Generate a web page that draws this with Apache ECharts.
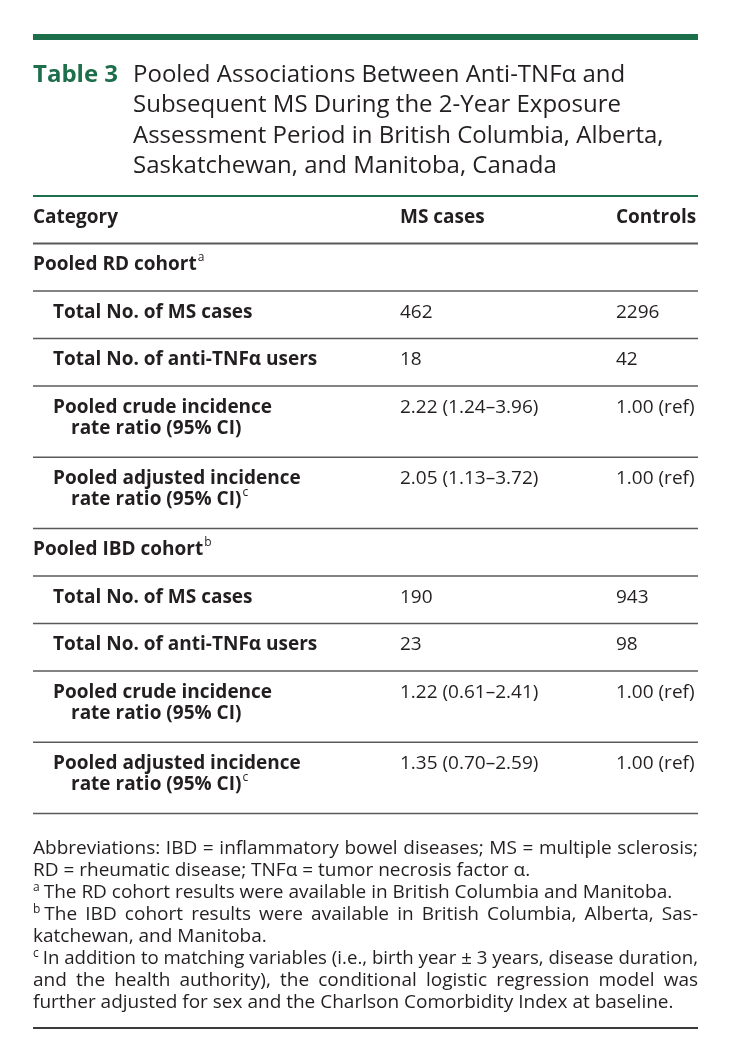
<!DOCTYPE html>
<html><head><meta charset="utf-8">
<script src="https://cdn.jsdelivr.net/npm/echarts@6/dist/echarts.min.js"></script>
<style>html,body{margin:0;padding:0;background:#fff}#c{width:730px;height:1063px}</style>
</head><body><div id="c"></div>
<script>
// ---------- data ----------
const tableNumber = 'Table 3';
const titleLines = [
  'Pooled Associations Between Anti-TNFα and',
  'Subsequent MS During the 2-Year Exposure',
  'Assessment Period in British Columbia, Alberta,',
  'Saskatchewan, and Manitoba, Canada'
];
const columnHeaders = ['Category', 'MS cases', 'Controls'];
const rowLabels = [
  ['Pooled RD cohort'],
  ['Total No. of MS cases'],
  ['Total No. of anti-TNFα users'],
  ['Pooled crude incidence', 'rate ratio (95% CI)'],
  ['Pooled adjusted incidence', 'rate ratio (95% CI)'],
  ['Pooled IBD cohort'],
  ['Total No. of MS cases'],
  ['Total No. of anti-TNFα users'],
  ['Pooled crude incidence', 'rate ratio (95% CI)'],
  ['Pooled adjusted incidence', 'rate ratio (95% CI)']
];
const rowIsGroup = [true, false, false, false, false, true, false, false, false, false];
const rowSuperscripts = ['a', '', '', '', 'c', 'b', '', '', '', 'c'];
const msCases = ['', '462', '18', '2.22 (1.24–3.96)', '2.05 (1.13–3.72)', '', '190', '23', '1.22 (0.61–2.41)', '1.35 (0.70–2.59)'];
const controls = ['', '2296', '42', '1.00 (ref)', '1.00 (ref)', '', '943', '98', '1.00 (ref)', '1.00 (ref)'];
const footnotes = [
  { sup: '', lines: ['Abbreviations: IBD = inflammatory bowel diseases; MS = multiple sclerosis;', 'RD = rheumatic disease; TNFα = tumor necrosis factor α.'] },
  { sup: 'a', lines: ['The RD cohort results were available in British Columbia and Manitoba.'] },
  { sup: 'b', lines: ['The IBD cohort results were available in British Columbia, Alberta, Sas-', 'katchewan, and Manitoba.'] },
  { sup: 'c', lines: ['In addition to matching variables (i.e., birth year ± 3 years, disease duration,', 'and the health authority), the conditional logistic regression model was', 'further adjusted for sex and the Charlson Comorbidity Index at baseline.'] }
];

// ---------- layout / style ----------
const FAMILY = '"Open Sans", "Noto Sans", sans-serif';
const TEXT = '#231f20';
const GREEN = '#1d6e4b';
const RULE = '#5a5a5a';
const LEFT = 33, RIGHT = 698, TABLE_W = RIGHT - LEFT;
const COL_X = [0, 367, 583];
const ROW_FONT = '700 19px ' + FAMILY;
const VAL_FONT = '400 19px ' + FAMILY;
const FOOT_FONT = '400 19px ' + FAMILY;
const SUP_FONT = '400 12px ' + FAMILY;
const TITLE_FONT = '400 24px ' + FAMILY;

const cvs = document.createElement('canvas').getContext('2d');
function measure(t, f) { cvs.font = f; return cvs.measureText(t).width; }

// row extents in "line units": header = 1, then each row 1 or 1.5
const rowStarts = [], rowEnds = [];
let acc = 0;
rowStarts.push(acc); acc += 1; rowEnds.push(acc); // header
rowLabels.forEach(l => { rowStarts.push(acc); acc += (l.length > 1 ? 1.5 : 1); rowEnds.push(acc); });
const TOTAL_UNITS = acc;
const seriesData = rowStarts.map((s, i) => [i, s, rowEnds[i]]);

function txt(t, x, y, font, fill, extra) {
  const o = { type: 'text', x: x, y: y, style: { text: t, font: font, fill: fill || TEXT, textAlign: 'left', textVerticalAlign: 'middle', align: 'left', verticalAlign: 'middle' } };
  if (extra) Object.assign(o, extra);
  return o;
}
function rule(x1, x2, y, color, w) {
  return { type: 'line', shape: { x1: x1, y1: y, x2: x2, y2: y }, style: { stroke: color, lineWidth: w } };
}

function renderItem(params, api) {
  const i = params.dataIndex;
  const tl = api.coord([0, api.value(1)]);
  const br = api.coord([TABLE_W, api.value(2)]);
  const top = tl[1], bottom = br[1], left = tl[0], right = br[0];
  const cx = COL_X.map(c => api.coord([c, 0])[0]);
  const y1 = top + 21.5;
  const kids = [];
  if (i === 0) {
    kids.push(txt(columnHeaders[0], cx[0], y1, ROW_FONT));
    kids.push(txt(columnHeaders[1], cx[1], y1, ROW_FONT));
    kids.push(txt(columnHeaders[2], cx[2], y1, ROW_FONT));
    kids.push(rule(left, right, top, GREEN, 2.2));
    kids.push(rule(left, right, bottom, RULE, 2));
  } else {
    const r = i - 1;
    const lines = rowLabels[r];
    const indent = rowIsGroup[r] ? 0 : 20;
    lines.forEach((ln, k) => {
      const x = cx[0] + indent + (k > 0 ? 18 : 0);
      const y = y1 + k * 21;
      kids.push(txt(ln, x, y, ROW_FONT));
      if (k === lines.length - 1 && rowSuperscripts[r]) {
        kids.push(txt(rowSuperscripts[r], x + measure(ln, ROW_FONT) + 1, y - 7, SUP_FONT));
      }
    });
    if (msCases[r]) kids.push(txt(msCases[r], cx[1], y1, VAL_FONT));
    if (controls[r]) kids.push(txt(controls[r], cx[2], y1, VAL_FONT));
    kids.push(rule(left, right, bottom, RULE, 1.6));
  }
  return { type: 'group', children: kids };
}

// ---------- graphic: title + footnotes ----------
const graphics = [];
graphics.push({ type: 'rect', shape: { x: LEFT, y: 34, width: TABLE_W, height: 6 }, style: { fill: GREEN } });
graphics.push(txt(tableNumber, LEFT, 75, '700 24px ' + FAMILY, GREEN));
titleLines.forEach((t, k) => graphics.push(txt(t, 133, 75 + k * 30.5, TITLE_FONT)));

let fy = 849;
const FOOT_LH = 21.9;
footnotes.forEach(p => {
  p.lines.forEach((ln, k) => {
    let x0 = LEFT;
    if (k === 0 && p.sup) {
      graphics.push(txt(p.sup, LEFT, fy - 5, SUP_FONT));
      x0 = LEFT + measure(p.sup, SUP_FONT) + 4;
    }
    const avail = RIGHT - x0;
    const natural = measure(ln, FOOT_FONT);
    const justify = k < p.lines.length - 1;
    if (natural > avail) {
      graphics.push(txt(ln, x0, fy, FOOT_FONT, TEXT, { scaleX: avail / natural }));
    } else if (justify) {
      const words = ln.split(' ');
      const ws = words.map(w => measure(w, FOOT_FONT));
      const sum = ws.reduce((a, b) => a + b, 0);
      const gap = (avail - sum) / (words.length - 1);
      let x = x0;
      words.forEach((w, j) => { graphics.push(txt(w, x, fy, FOOT_FONT)); x += ws[j] + gap; });
    } else {
      graphics.push(txt(ln, x0, fy, FOOT_FONT));
    }
    fy += FOOT_LH;
  });
});
graphics.push({ type: 'rect', shape: { x: LEFT, y: 1027, width: TABLE_W, height: 2 }, style: { fill: '#3a3a3a' } });

const chart = echarts.init(document.getElementById('c'), null, { renderer: 'canvas' });
chart.setOption({
  animation: false,
  backgroundColor: '#fff',
  grid: { left: LEFT, right: 730 - RIGHT, top: 196, bottom: 1063 - (196 + 47.5 * TOTAL_UNITS) },
  xAxis: { type: 'value', min: 0, max: TABLE_W, show: false },
  yAxis: { type: 'value', min: 0, max: TOTAL_UNITS, inverse: true, show: false },
  series: [{ type: 'custom', renderItem: renderItem, data: seriesData, silent: true, clip: false }],
  graphic: graphics
});
</script></body></html>
